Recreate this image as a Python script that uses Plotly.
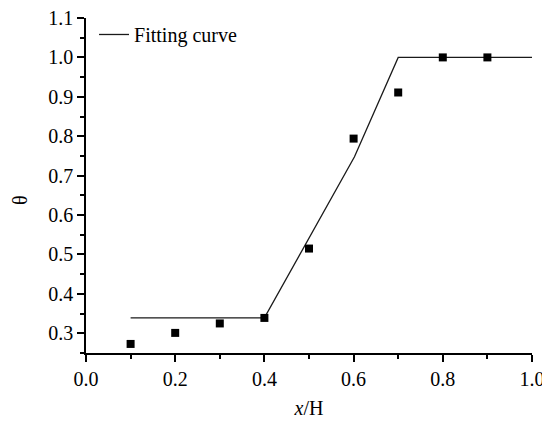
import plotly.graph_objects as go

# Measured data points
x_points = [0.1, 0.2, 0.3, 0.4, 0.5, 0.6, 0.7, 0.8, 0.9]
theta_points = [0.273, 0.301, 0.325, 0.339, 0.515, 0.794, 0.911, 1.0, 1.0]

# Fitting curve vertices
x_fit = [0.1, 0.4, 0.602, 0.7, 1.0]
theta_fit = [0.339, 0.339, 0.748, 1.0, 1.0]

x_ticks = [0.0, 0.2, 0.4, 0.6, 0.8, 1.0]
y_ticks = [0.3, 0.4, 0.5, 0.6, 0.7, 0.8, 0.9, 1.0, 1.1]

FONT = "Liberation Serif, Times New Roman, serif"

fig = go.Figure()
fig.add_trace(go.Scatter(
    x=x_fit, y=theta_fit, mode="lines", name="Fitting curve",
    line=dict(color="#1a1a1a", width=1.3), showlegend=True, cliponaxis=False,
))
fig.add_trace(go.Scatter(
    x=x_points, y=theta_points, mode="markers", name="data",
    marker=dict(symbol="square", size=8, color="black"), showlegend=False,
))

axis_common = dict(
    showgrid=False, zeroline=False, showline=True, linecolor="black", linewidth=1.5,
    ticks="outside", ticklen=7, tickwidth=1.5, tickcolor="black",
    tickfont=dict(family=FONT, size=20, color="black"),
    mirror=False, automargin=False, ticklabeloverflow="allow",
)
fig.update_xaxes(
    range=[0, 1], tickvals=x_ticks, ticktext=[f"{v:.1f}" for v in x_ticks],
    minor=dict(dtick=0.1, ticklen=4, tickwidth=1.5, tickcolor="black", ticks="outside"),
    title=dict(text="<i>x</i>/H", font=dict(family=FONT, size=20, color="black"), standoff=12),
    **axis_common,
)
fig.update_yaxes(
    range=[0.25, 1.1], tickvals=y_ticks, ticktext=[f"{v:.1f}" for v in y_ticks],
    minor=dict(tickvals=[0.25, 0.35, 0.45, 0.55, 0.65, 0.75, 0.85, 0.95, 1.05],
               ticklen=4, tickwidth=1.5, tickcolor="black", ticks="outside"),
    **axis_common,
)
fig.add_annotation(
    xref="paper", yref="paper", x=-0.149, y=0.455, xanchor="center", yanchor="middle",
    text="θ", showarrow=False,
    textangle=-90, font=dict(family=FONT, size=20, color="black"),
)
# page body has an 8px margin, so the figure is sized to fill the rest of the window
fig.update_layout(
    width=542, height=414,
    margin=dict(l=78, r=18, t=10, b=69, autoexpand=False),
    paper_bgcolor="white", plot_bgcolor="white",
    legend=dict(x=0.018, y=1.009, xanchor="left", yanchor="top",
                bgcolor="rgba(0,0,0,0)", font=dict(family=FONT, size=20, color="black"),
                itemwidth=30),
)
fig.write_html("out.html")
